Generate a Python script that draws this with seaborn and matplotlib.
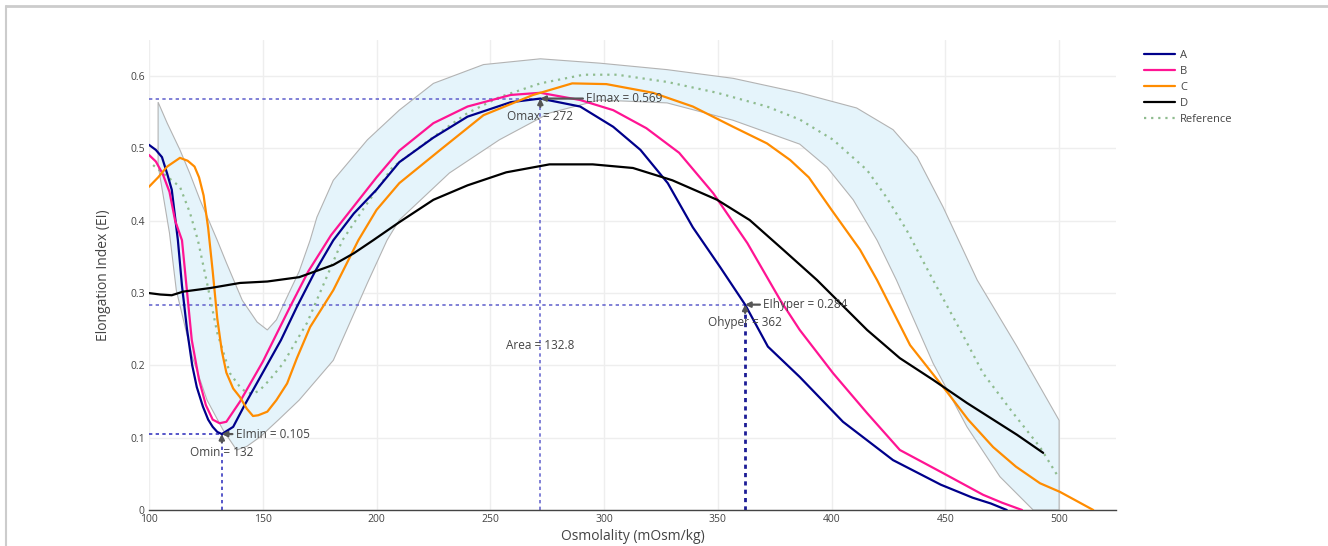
import numpy as np
import pandas as pd
import seaborn as sns
import matplotlib.pyplot as plt
from matplotlib.lines import Line2D

## curves (osmolality, EI)
a_x = [100, 103, 105.7, 108, 110, 112.7, 114.5, 116.7, 119, 121, 123.7, 126, 128, 130, 132, 137, 142, 150, 158,
       165, 173, 181, 190, 200, 210, 225, 240, 259, 272, 289.5, 304, 316, 328, 339, 351, 362, 372, 386, 405, 427,
       448, 462, 470, 477]
a_y = [.505, .498, .488, .465, .443, .373, .31, .25, .2, .17, .143, .125, .115, .108, .105, .115, .145, .19, .235,
       .281, .33, .373, .41, .443, .481, .515, .544, .564, .569, .558, .530, .498, .452, .391, .336, .284, .226,
       .184, .122, .069, .035, .017, .009, 0]

b_x = [100, 103, 106, 109, 111.5, 114.5, 118.8, 122, 125, 128, 131, 134, 140, 150, 162, 170, 180, 190, 200, 210,
       225, 240, 259, 272, 289.5, 304, 318.6, 333, 348, 363, 377.5, 386, 400.7, 415.6, 430, 449, 466.6, 475, 483.7]
b_y = [.491, .482, .465, .44, .40, .373, .235, .18, .145, .125, .12, .122, .15, .205, .281, .33, .38, .42, .46, .497,
       .535, .558, .574, .577, .567, .553, .528, .494, .438, .369, .290, .249, .189, .134, .083, .051, .021, .01, 0]

c_x = [100, 104, 108, 113.6, 117, 120, 122, 124, 126, 128, 130, 132, 134, 137, 140, 143, 145.7, 148, 152, 156,
       160.7, 165, 170.8, 181, 192, 200, 210, 228, 247, 268.8, 286, 301, 321.5, 339, 356.7, 371.6, 381.8, 390,
       400, 412.5, 420, 434.5, 450.8, 460, 471, 481, 491.6, 500.4, 508, 515]
c_y = [.447, .46, .475, .487, .483, .475, .46, .435, .39, .33, .265, .22, .19, .168, .156, .14, .130, .131, .136,
       .152, .175, .21, .253, .304, .373, .415, .452, .498, .546, .574, .590, .589, .577, .558, .530, .507, .484,
       .46, .415, .36, .318, .228, .163, .125, .087, .06, .037, .025, .012, 0]

d_x = [100, 105, 110, 115, 127, 140, 152, 166, 181, 190, 198.5, 210, 225, 240, 257, 276, 295, 312.7, 330, 349.7,
       364, 378.7, 393.6, 415.6, 430, 444.6, 459.5, 481.5, 493]
d_y = [.300, .298, .297, .302, .307, .314, .316, .322, .339, .355, .373, .398, .429, .449, .467, .478, .478, .473,
       .456, .429, .401, .360, .318, .249, .210, .180, .148, .104, .079]

ref_x = [101.8, 108, 113.6, 118, 121.5, 125.5, 130, 135.6, 140, 143, 146, 148.8, 153, 159, 169.5, 185, 195, 207,
         225, 240, 254, 272, 291, 305.7, 327.7, 349.7, 371.6, 386, 400.7, 415.6, 424, 433, 444.6, 456.5, 466.6,
         479.8, 491.6, 499.6]
ref_y = [.477, .461, .447, .411, .373, .314, .245, .189, .17, .162, .161, .166, .18, .203, .259, .373, .42, .474,
         .516, .549, .571, .590, .602, .602, .592, .577, .558, .540, .512, .470, .433, .387, .318, .249, .189,
         .134, .087, .046]

## reference band
up_x = [104, 108, 113.6, 118, 122.4, 130, 134, 141, 147.5, 152, 156, 160, 166, 170.8, 173.8, 181, 196, 210, 225,
        247, 272, 298, 327.7, 356.7, 386, 411, 427, 437.6, 449, 464, 481.5, 500]
up_y = [.564, .535, .498, .465, .429, .373, .342, .290, .260, .249, .263, .29, .33, .373, .405, .456, .512, .553,
        .590, .616, .624, .618, .609, .597, .577, .556, .526, .488, .419, .318, .226, .124]
lo_x = [104, 106.5, 109, 112, 119, 125.5, 132.5, 138.5, 143, 148.8, 157, 166, 181, 196, 204.6, 210, 232, 254, 276,
        298, 327.7, 356.7, 386, 398, 409.5, 420, 428.5, 444.6, 459.5, 474, 488.6, 500]
lo_y = [.477, .43, .383, .304, .212, .152, .111, .083, .088, .101, .125, .152, .207, .314, .373, .401, .466, .512,
        .549, .567, .563, .539, .506, .474, .429, .373, .318, .203, .115, .046, 0, 0]

## key points
o_min, ei_min = 132, 0.105
o_max, ei_max = 272, 0.569
o_hyper, ei_hyper = 362, 0.284
area = 132.8

names = ["A", "B", "C", "D"]
colors = ["#00008B", "#FF1493", "#FF8C00", "#000000"]
curves = [(a_x, a_y), (b_x, b_y), (c_x, c_y), (d_x, d_y)]

sns.set_style("whitegrid")
plt.rcParams['font.family'] = ['Open Sans', 'DejaVu Sans']

fig = plt.figure(figsize=(13.28, 5.46), dpi=100)
ax = fig.add_axes([149 / 1328, 36 / 546, 967 / 1328, 470 / 546])

# band
bx = np.concatenate([up_x, lo_x[::-1]])
by = np.concatenate([up_y, lo_y[::-1]])
ax.fill(bx, by, facecolor="#e5f4fb", edgecolor="#b3b3b3", lw=0.8, zorder=1)

# guide lines
ax.plot([100, o_max], [ei_max, ei_max], ls=(0, (2, 2)), color="#6b6bcf", lw=1.2, zorder=2)
ax.plot([o_max, o_max], [0, ei_max], ls=(0, (2, 2)), color="#6b6bcf", lw=1.2, zorder=2)
ax.plot([100, o_min], [ei_min, ei_min], ls=(0, (2, 2)), color="#3a3ac0", lw=1.2, zorder=2)
ax.plot([o_min, o_min], [0, ei_min], ls=(0, (2, 2)), color="#3a3ac0", lw=1.2, zorder=2)
ax.plot([100, o_hyper], [ei_hyper, ei_hyper], ls=(0, (2, 2)), color="#6b6bcf", lw=1.2, zorder=2)
ax.plot([o_hyper, o_hyper], [0, ei_hyper], ls=(0, (1.5, 1.5)), color="#1c1c96", lw=2, zorder=2)

for (x, y), n, c in zip(curves, names, colors):
    sns.lineplot(x=x, y=y, ax=ax, color=c, lw=1.6, label=n, zorder=4)
sns.lineplot(x=ref_x, y=ref_y, ax=ax, color="#8FBC8F", lw=1.6, ls=(0, (1, 2.2)), label="Reference", zorder=3)

# annotations
akw = dict(arrowstyle="-|>,head_length=0.35,head_width=0.18", color="#555555", lw=1.6, shrinkA=0, shrinkB=0)
tkw = dict(fontsize=8.5, color="#444444", textcoords="offset points", zorder=6)
ax.annotate(f"EImax = {ei_max}", (o_max, ei_max), xytext=(33, 0), ha="left", va="center", arrowprops=akw, **tkw)
ax.annotate(f"Omax = {o_max}", (o_max, ei_max), xytext=(0, -13), ha="center", va="center", arrowprops=akw, **tkw)
ax.annotate(f"EImin = {ei_min}", (o_min, ei_min), xytext=(10, 0), ha="left", va="center", arrowprops=akw, **tkw)
ax.annotate(f"Omin = {o_min}", (o_min, ei_min), xytext=(0, -13), ha="center", va="center", arrowprops=akw, **tkw)
ax.annotate(f"EIhyper = {ei_hyper}", (o_hyper, ei_hyper), xytext=(13, 0), ha="left", va="center", arrowprops=akw, **tkw)
ax.annotate(f"Ohyper = {o_hyper}", (o_hyper, ei_hyper), xytext=(0, -13), ha="center", va="center", arrowprops=akw, **tkw)
ax.text(o_max, 0.227, f"Area = {area}", ha="center", va="center", fontsize=8.5, color="#444444", zorder=6)

ax.set_xlim(100, 525)
ax.set_ylim(0, 0.65)
ax.set_xticks([100, 150, 200, 250, 300, 350, 400, 450, 500])
ax.set_yticks([0, 0.1, 0.2, 0.3, 0.4, 0.5, 0.6])
ax.set_yticklabels(["0", "0.1", "0.2", "0.3", "0.4", "0.5", "0.6"])
ax.tick_params(length=0, labelsize=7.5, labelcolor="#444444", pad=3)
ax.grid(color="#eeeeee", lw=1)
for s in ["top", "right", "left"]:
    ax.spines[s].set_visible(False)
ax.spines["bottom"].set_color("#444444")
ax.spines["bottom"].set_linewidth(1)
ax.set_xlabel("Osmolality (mOsm/kg)", fontsize=10, color="#444444", labelpad=3)
ax.set_ylabel("Elongation Index (EI)", fontsize=10, color="#444444", labelpad=14)

ax.legend(loc="upper left", bbox_to_anchor=(1138 / 1328, 1 - 44 / 546), bbox_transform=fig.transFigure,
          frameon=False, fontsize=8, handlelength=2.8, handletextpad=0.5, labelspacing=0.45, borderpad=0,
          labelcolor="#444444")

# outer frame
fig.add_artist(Line2D([6 / 1328, 1], [1 - 6 / 546, 1 - 6 / 546], transform=fig.transFigure, color="#cccccc", lw=2))
fig.add_artist(Line2D([6 / 1328, 6 / 1328], [0, 1 - 6 / 546], transform=fig.transFigure, color="#cccccc", lw=1.5))

fig.savefig("out.png", dpi=100)
